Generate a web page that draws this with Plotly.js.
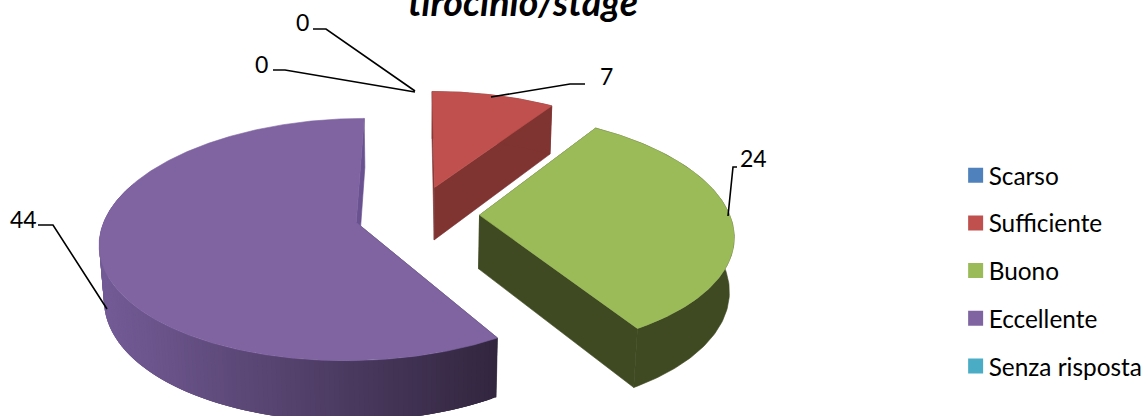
<!DOCTYPE html>
<html><head><meta charset="utf-8">
<script src="https://cdn.plot.ly/plotly-3.0.1.min.js"></script>
<style>html,body{margin:0;padding:0;background:#fff;overflow:hidden}</style>
</head><body><div id="chart" style="width:1145px;height:416px"></div>
<script>
const categories = ["Scarso","Sufficiente","Buono","Eccellente","Senza risposta"];
const values = [0,7,24,44,0];
const chartTitle = "tirocinio/stage";

// styles and geometry, separate from the data
const colors = ["#4F81BD","#C0504D","#9BBB59","#8064A2","#4BACC6"];
const sideColors = ["#2f4d71","#7F3432","#3F4A22","#4a3a60","#2d6676"];
const cfg = {cx:417,cy:214.5,A:250,B:116.5,ky:0.14,kx:0.15,D:54.5,m:0.015,explode:0.25};
const FONT = "Lato, Carlito, sans-serif";

function P(X,Y,z){
  const wx = 1 + cfg.kx*Y + cfg.m*z, wy = 1 + cfg.ky*Y + cfg.m*z;
  return [cfg.cx + cfg.A*X/wx, cfg.cy - cfg.B*Y/wy + cfg.D*z/wy];
}
function poly(pts,fill,lw){
  return {type:"scatter",mode:"lines",x:pts.map(p=>p[0]).concat(pts[0][0]),y:pts.map(p=>p[1]).concat(pts[0][1]),
    fill:"toself",fillcolor:fill,line:{color:fill,width:lw===undefined?0.6:lw},hoverinfo:"skip",showlegend:false};
}
function mix(a,b,t){
  const h=s=>[1,3,5].map(i=>parseInt(s.substr(i,2),16));
  const A=h(a),B=h(b);
  return "rgb("+A.map((v,i)=>Math.round(v+(B[i]-v)*t)).join(",")+")";
}
const total = values.reduce((a,b)=>a+b,0);
const traces = [];
let acc = 0;
values.forEach((v,i)=>{
  const a0 = acc/total*2*Math.PI; acc += v;
  const a1 = acc/total*2*Math.PI;
  if(v===0) return;
  const mid=(a0+a1)/2, ox=cfg.explode*Math.sin(mid), oy=cfg.explode*Math.cos(mid);
  const pt=(a,z)=>P(ox+Math.sin(a),oy+Math.cos(a),z);
  const apex=z=>P(ox,oy,z);
  const n=Math.max(60,Math.round((a1-a0)*60));
  const shaded = i===3;
  // inner cut faces
  traces.push(poly([pt(a0,0),apex(0),apex(1),pt(a0,1)], shaded?"#32263F":sideColors[i]));
  traces.push(poly([pt(a1,0),apex(0),apex(1),pt(a1,1)], shaded?"#6A5290":sideColors[i]));
  // outer wall
  if(shaded){
    // gradient wall: strips overlap so no seams appear between them
    for(let s=0;s<n;s++){
      const b0=a0+(a1-a0)*s/n,b1=Math.min(a1,a0+(a1-a0)*(s+3)/n);
      if(Math.cos(b0)>0.3) continue;
      const xm=pt(b0,0)[0];
      const c=mix("#735B96","#32263F",Math.min(1,Math.max(0,(xm-105)/(497-105))));
      traces.push(poly([pt(b0,0),pt(b1,0),pt(b1,1),pt(b0,1)],c,0));
    }
  } else {
    const wall=[];
    for(let s=0;s<=n;s++) wall.push(pt(a0+(a1-a0)*s/n,0));
    for(let s=n;s>=0;s--) wall.push(pt(a0+(a1-a0)*s/n,1));
    traces.push(poly(wall,sideColors[i]));
  }
  // top face
  const top=[apex(0)];
  for(let s=0;s<=n*3;s++) top.push(pt(a0+(a1-a0)*s/(n*3),0));
  traces.push(poly(top,colors[i]));
});
// legend entries, one per category
categories.forEach((c,i)=>{
  traces.push({type:"scatter",mode:"markers",x:[null],y:[null],name:c,legendgroup:c,showlegend:true,
    marker:{symbol:"square",size:15,color:colors[i]},hoverinfo:"skip"});
});

const labelPos=[[302,22],[261,64],[606,76],[753,158],[23,219]];
const leaders=[
  "M313,29 L326,29 L415,91",
  "M273,70 L285,70 L415,92",
  "M585,84 L570,84 L491,97",
  "M737,167 L733,167 L728,216",
  "M38,225 L53,225 L107,309"
];
// order of the labels in labelPos: first 0, second 0, 7, 24, 44
const labelValues=[values[0],values[4],values[1],values[2],values[3]];
const annotations=labelPos.map((p,i)=>({x:p[0],y:p[1],xref:"x",yref:"y",text:String(labelValues[i]),showarrow:false,
  xanchor:"center",yanchor:"middle",font:{family:FONT,size:23,color:"#000"}}));
annotations.push({x:523,y:1,xref:"x",yref:"y",text:"<b><i>"+chartTitle+"</i></b>",showarrow:false,xanchor:"center",yanchor:"middle",
  font:{family:FONT,size:37.5,color:"#000"}});

const layout={width:1145,height:416,margin:{l:0,r:0,t:0,b:0,autoexpand:false},paper_bgcolor:"#fff",plot_bgcolor:"#fff",
  xaxis:{range:[0,1145],visible:false,fixedrange:true},
  yaxis:{range:[416,0],visible:false,fixedrange:true},
  showlegend:true,
  legend:{x:0.8285,xanchor:"left",y:0.349,yanchor:"middle",font:{family:FONT,size:24.4,color:"#000"},tracegroupgap:13,bgcolor:"rgba(0,0,0,0)",traceorder:"grouped",itemclick:false,itemdoubleclick:false},
  annotations:annotations,
  shapes:leaders.map(d=>({type:"path",path:d,xref:"x",yref:"y",line:{color:"#000",width:1.6},layer:"above"}))
};
Plotly.newPlot("chart",traces,layout,{displayModeBar:false,staticPlot:true}).then(()=>{
  // the reference keeps its legend swatches closer to the text
  document.querySelectorAll(".legend .legendpoints").forEach(g=>g.setAttribute("transform","translate(7,0)"));
});
</script></body></html>
